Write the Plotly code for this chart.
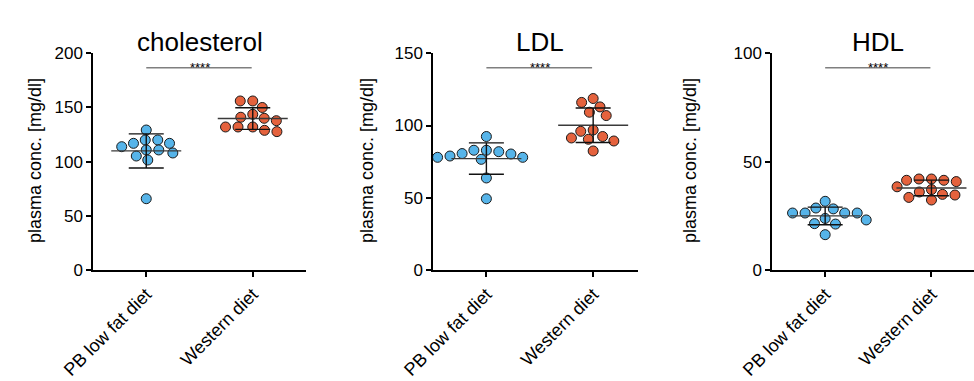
import numpy as np
import plotly.graph_objects as go

W, H = 974, 381

groups = ["PB low fat diet", "Western diet"]

# plasma concentrations [mg/dl], one value per animal
chol_pb = [129.2, 120.0, 120.0, 116.9, 116.9, 113.8, 110.8, 110.8, 108.0, 105.2, 101.5, 65.8]
chol_wd = [156.0, 156.0, 150.0, 143.7, 141.0, 140.0, 137.8, 132.0, 132.0, 132.0, 128.9, 127.7]
ldl_pb = [92.4, 82.9, 82.9, 81.9, 80.6, 80.3, 78.9, 78.0, 78.0, 76.6, 63.7, 49.3]
ldl_wd = [118.7, 116.0, 112.9, 109.2, 106.9, 96.9, 96.0, 92.4, 91.4, 90.5, 89.3, 82.4]
hdl_pb = [31.7, 28.6, 28.2, 26.3, 26.3, 26.3, 26.3, 23.8, 23.1, 21.4, 21.2, 16.3]
hdl_wd = [42.0, 42.0, 41.4, 41.4, 40.8, 38.4, 37.1, 36.0, 34.9, 34.6, 33.5, 32.3]

titles = ["cholesterol", "LDL", "HDL"]
y_max = [200, 150, 100]
significance = ["****", "****", "****"]
series = [(chol_pb, chol_wd), (ldl_pb, ldl_wd), (hdl_pb, hdl_wd)]

# panel geometry in pixels
panel_left = [93, 433, 772]
panel_right = [306, 638, 974]
x_range_max = [1.5, 1.42, 1.4]
ytitle_px = [23, 367, 702]
plot_top, plot_bottom = 53.3, 270.0

colors = ["#56b4e9", "#e5623d"]
FONT = "Liberation Sans, Arial, Helvetica, sans-serif"
MARKER_D = 10.0


def swarm(values, px_per_x, px_per_y, dx_min=12.5, dy_min=10.0):
    """Beeswarm offsets: each point goes as close to the centre as possible
    without overlapping (elliptical clearance, in pixels)."""
    vals = np.asarray(values, dtype=float)
    order = np.argsort(-vals, kind="stable")
    placed = []
    xs = np.zeros(len(vals))

    def clear(c, y):
        return all(((c - px) / dx_min) ** 2 + ((y - py) / dy_min) ** 2 >= 1 - 1e-6
                   for px, py in placed)

    for i in order:
        y = vals[i] * px_per_y
        cands = [0.0]
        for px, py in placed:
            t = abs(py - y) / dy_min
            if t < 1:
                dx = dx_min * np.sqrt(1 - t * t)
                cands += [px - dx, px + dx]
        cands.sort(key=lambda c: (round(abs(c), 6), c))
        chosen = cands[-1]
        for c in cands:
            if clear(c, y):
                chosen = c
                break
        placed.append((chosen, y))
        xs[i] = chosen / px_per_x
    return xs


fig = go.Figure()
y_dom = [(H - plot_bottom) / H, (H - plot_top) / H]
layout = dict(
    width=W, height=H,
    margin=dict(l=0, r=0, t=0, b=0, autoexpand=False),
    paper_bgcolor="white", plot_bgcolor="white",
    showlegend=False,
    font=dict(family=FONT, size=17, color="black"),
)
shapes, annotations = [], []

for p in range(3):
    suffix = "" if p == 0 else str(p + 1)
    xa, ya = "x" + suffix, "y" + suffix
    dom_x = [panel_left[p] / W, panel_right[p] / W]
    x_lo = -0.5
    px_per_x = (panel_right[p] - panel_left[p]) / (x_range_max[p] - x_lo)
    px_per_y = (plot_bottom - plot_top) / y_max[p]

    for g in range(2):
        vals = np.asarray(series[p][g], dtype=float)
        offs = swarm(vals, px_per_x, px_per_y)
        fig.add_trace(go.Scatter(
            x=g + offs, y=vals, mode="markers", xaxis=xa, yaxis=ya,
            marker=dict(size=MARKER_D, color=colors[g],
                        line=dict(color="#1a1a1a", width=1)),
            hoverinfo="y",
        ))
        m = vals.mean()
        sd = vals.std(ddof=1)
        half_mean = 35 / px_per_x
        half_cap = 17.5 / px_per_x
        # mean line
        fig.add_trace(go.Scatter(
            x=[g - half_mean, g + half_mean], y=[m, m], mode="lines",
            xaxis=xa, yaxis=ya, line=dict(color="#3a3a3a", width=1.4),
            hoverinfo="skip"))
        # SD whisker with caps
        fig.add_trace(go.Scatter(
            x=[g - half_cap, g + half_cap, None, g, g, None, g - half_cap, g + half_cap],
            y=[m + sd, m + sd, None, m + sd, m - sd, None, m - sd, m - sd],
            mode="lines", xaxis=xa, yaxis=ya,
            line=dict(color="#111111", width=1.4), hoverinfo="skip"))

    axis_common = dict(
        showline=True, linecolor="black", linewidth=1.5,
        ticks="outside", tickcolor="black", tickwidth=1.5, ticklen=5,
        showgrid=False, zeroline=False, automargin=False,
        tickfont=dict(family=FONT, size=17, color="black"),
    )
    layout["xaxis" + suffix] = dict(
        axis_common, domain=dom_x, range=[x_lo, x_range_max[p]],
        tickmode="array", tickvals=[0, 1], ticktext=groups, tickangle=-45,
        tickfont=dict(family=FONT, size=18, color="black"),
        anchor=ya,
    )
    layout["yaxis" + suffix] = dict(
        axis_common, domain=y_dom, range=[0, y_max[p]], dtick=50,
        anchor=xa,
    )

    # significance bar and stars
    bar_y = (H - 67.7) / H
    shapes.append(dict(type="line", xref=xa, yref="paper", x0=0, x1=0.99,
                       y0=bar_y, y1=bar_y, line=dict(color="#7f7f7f", width=1.5)))
    annotations.append(dict(xref=xa, yref="paper", x=0.5, y=(H - 57.5) / H,
                            text=significance[p], showarrow=False,
                            font=dict(family=FONT, size=13, color="black")))
    # panel title
    annotations.append(dict(xref=xa, yref="paper", x=0.5, y=(H - 24.5) / H,
                            text=titles[p], showarrow=False,
                            font=dict(family=FONT, size=26, color="black")))
    # y-axis title
    annotations.append(dict(xref="paper", yref="paper", x=ytitle_px[p] / W,
                            y=(H - 161) / H, text="plasma conc. [mg/dl]",
                            textangle=-90, showarrow=False,
                            font=dict(family=FONT, size=18, color="black")))

layout["shapes"] = shapes
layout["annotations"] = annotations
fig.update_layout(**layout)
fig.write_html("out.html")
